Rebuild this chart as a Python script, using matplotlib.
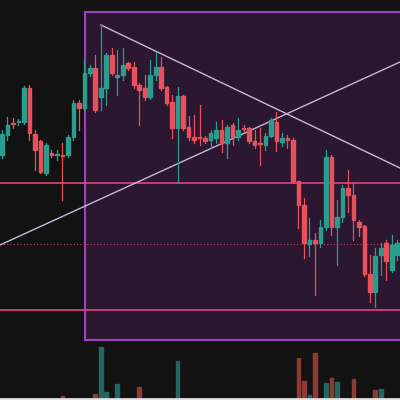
import matplotlib

matplotlib.use("Agg")
import matplotlib.pyplot as plt
from matplotlib.patches import Rectangle
import numpy as np

# candle values (screen units, larger = lower price)
opens = [155, 135, 123, 122, 122, 88, 134, 141, 173, 153, 155, 155, 155, 137, 103, 108, 73, 68, 97, 88,
         55, 77, 75, 63, 67, 85, 88, 97, 75, 67, 87, 102, 128, 96, 127, 137,
         137, 138, 140, 138, 130, 143, 125, 137, 128, 128, 141, 143, 145, 136, 122, 142, 138, 140,
         181, 205, 244, 240, 243, 227, 157, 227, 217, 188, 195, 222, 226, 274, 292, 255, 243, 270, 255]
closes = [134, 125, 124, 121, 88, 133, 150, 172, 145, 155, 154, 156, 137, 103, 108, 73, 68, 110, 88, 55,
          73, 75, 65, 68, 85, 90, 97, 75, 67, 88, 103, 128, 96, 128, 137, 140,
          138, 141, 133, 130, 143, 127, 137, 130, 129, 141, 145, 144, 136, 120, 141, 138, 140, 181,
          205, 243, 240, 243, 227, 157, 227, 217, 188, 195, 220, 227, 274, 292, 256, 248, 261, 245, 243]
highs = [130, 117, 118, 119, 86, 85, 130, 140, 143, 150, 150, 143, 135, 100, 100, 60, 65, 55, 25, 53,
         48, 50, 48, 62, 62, 83, 75, 60, 52, 57, 86, 95, 87, 95, 116, 115,
         105, 136, 130, 122, 120, 125, 123, 118, 125, 127, 130, 128, 133, 118, 112, 133, 135, 138,
         181, 198, 218, 233, 220, 150, 155, 200, 185, 170, 183, 220, 225, 255, 248, 243, 240, 235, 240]
lows = [158, 140, 128, 125, 124, 140, 170, 173, 175, 157, 160, 200, 157, 140, 130, 110, 76, 112, 110, 105,
        75, 95, 80, 70, 88, 125, 100, 99, 80, 90, 105, 138, 183, 130, 140, 143,
        145, 143, 148, 143, 152, 158, 145, 140, 131, 143, 148, 165, 150, 137, 151, 146, 148, 183,
        228, 258, 256, 295, 247, 230, 235, 265, 222, 212, 240, 236, 276, 302, 307, 275, 280, 272, 260]

vol_idx = [11, 17, 18, 19, 21, 25, 32, 54, 55, 56, 57, 59, 60, 61, 64, 68, 69]
vol_val = [2, 4, 51, 6, 14, 11, 37, 40, 17, 3, 45, 15, 20, 16, 19, 8, 9]
vol_up = [False, False, True, True, True, False, True, False, False, True, False, True, False, True,
          False, False, True]

bg = "#121212"
up_c, dn_c = "#2a9d8f", "#e8505b"

fig = plt.figure(figsize=(4, 4), dpi=100, facecolor=bg)
ax = fig.add_axes([0, 0, 1, 1])
ax.set_facecolor(bg)
ax.set_xlim(-0.36, 72.5)
ax.set_ylim(400, 0)
ax.axis("off")

def px(x):
    # screen x to candle index
    return (x - 2) / 5.49

# highlighted zone
ax.add_patch(Rectangle((px(85), 12), px(405) - px(85), 328, facecolor="#2b1730",
                       edgecolor="#a040c0", linewidth=1.5, zorder=0))

ax.axhline(183, color="#d83d7c", linewidth=1.3, zorder=1)
ax.axhline(310, color="#d83d7c", linewidth=1.3, zorder=1)
ax.axhline(244, color="#c0406e", linewidth=0.8, linestyle=(0, (1, 2)), zorder=1)

ax.plot([px(101), px(400)], [25, 168], color="#c8b8d8", linewidth=1, zorder=1)
ax.plot([px(0), px(400)], [245, 62], color="#c8b8d8", linewidth=1, zorder=1)

for i, (o, c, h, l) in enumerate(zip(opens, closes, highs, lows)):
    col = up_c if c < o else dn_c
    ax.plot([i, i], [h, l], color=col, linewidth=0.9, zorder=2)
    top, bot = min(o, c), max(o, c)
    ax.add_patch(Rectangle((i - 0.33, top), 0.66, max(bot - top, 1.2), color=col, zorder=3))

for i, v, u in zip(vol_idx, vol_val, vol_up):
    ax.add_patch(Rectangle((i - 0.33, 398 - v), 0.66, v,
                           color="#22675f" if u else "#8e3a34", zorder=2))

ax.axhline(399, color="#e0e0e0", linewidth=2, zorder=4)

fig.savefig("out.png", dpi=100, facecolor=bg)
